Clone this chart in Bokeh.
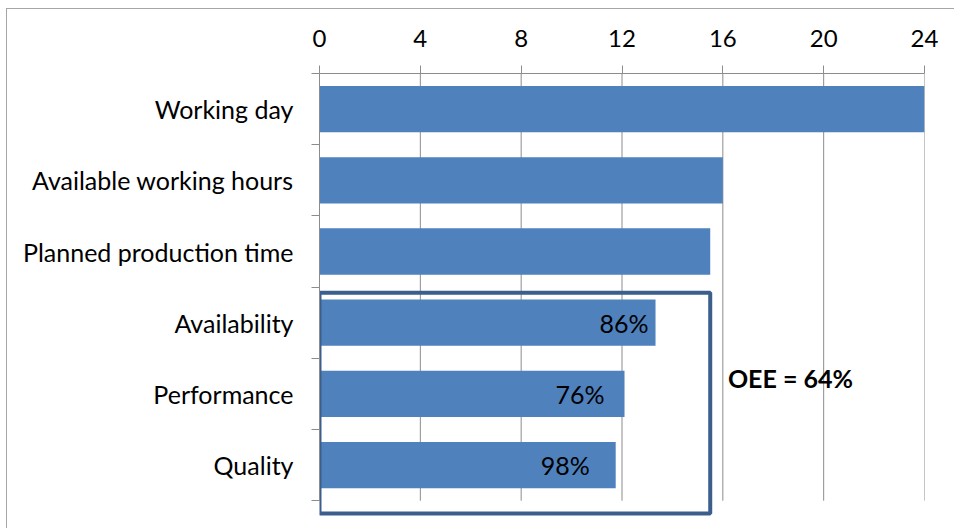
from bokeh.plotting import figure
from bokeh.models import ColumnDataSource, Range1d, FixedTicker
from bokeh.core.properties import value
from bokeh.embed import file_html
from bokeh.resources import INLINE

# ---- data ----
categories = ["Working day", "Available working hours", "Planned production time",
              "Availability", "Performance", "Quality"]
hours = [24, 16, 15.5, 13.33, 12.1, 11.75]
pct_labels = ["", "", "", "86%", "76%", "98%"]
x_ticks = [0, 4, 8, 12, 16, 20, 24]
oee_text = "OEE = 64%"

FONT = "Lato"
BAR = "#4F81BD"
GRID = "#8c8c8c"
BOX = "#3B5E8C"

n = len(categories)
ypos = [n - 1 - i + 0.5 for i in range(n)]

p = figure(frame_width=605, frame_height=445,
           x_range=Range1d(0, 24), y_range=Range1d(-0.25, n),
           x_axis_location="above",
           output_backend="svg", toolbar_location=None,
           min_border_left=312, min_border_top=64,
           min_border_right=30, min_border_bottom=10)
p.styles = {"margin-left": "6px", "margin-top": "8px",
            "border-left": "1px solid #a6a6a6", "border-top": "1px solid #a6a6a6"}
p.outline_line_color = None
p.xgrid.visible = False
p.ygrid.visible = False
p.background_fill_color = "white"
p.border_fill_color = "white"

# grid lines (vertical) spanning the category area only
p.segment(x0=x_ticks, y0=[0] * len(x_ticks), x1=x_ticks, y1=[n] * len(x_ticks),
          line_color=GRID, line_width=1)

src = ColumnDataSource(dict(y=ypos, right=hours, cat=categories))
p.hbar(y="y", left=0, right="right", height=0.65, source=src,
       fill_color=BAR, line_color=None)

# percent labels inside bars
lab_idx = [i for i, t in enumerate(pct_labels) if t]
lab_offsets = [-7, -20, -26]
lsrc = ColumnDataSource(dict(x=[hours[i] for i in lab_idx],
                             y=[ypos[i] for i in lab_idx],
                             t=[pct_labels[i] for i in lab_idx],
                             xo=lab_offsets))
p.text(x="x", y="y", text="t", x_offset="xo", source=lsrc,
       text_align="right", text_baseline="middle",
       text_font=value(FONT), text_font_size="25px", text_color="black")

# OEE box around the last three bars
p.quad(left=[0], right=[hours[2]], bottom=[-0.18], top=[2.92],
       fill_color=None, line_color=BOX, line_width=4)
p.text(x=[16.2], y=[1.72], text=[oee_text], text_align="left", text_baseline="middle",
       text_font=value(FONT), text_font_size="25px", text_font_style="bold",
       text_color="black")

# x axis (top)
xa = p.xaxis[0]
xa.ticker = FixedTicker(ticks=x_ticks)
xa.major_tick_out = 8
xa.major_tick_in = 0
xa.minor_tick_out = 0
xa.minor_tick_in = 0
xa.axis_line_color = GRID
xa.major_tick_line_color = GRID
xa.major_label_standoff = 19
xa.major_label_text_font = FONT
xa.major_label_text_font_size = "24px"
xa.major_label_text_color = "black"

# y axis (left)
ya = p.yaxis[0]
ya.ticker = FixedTicker(ticks=ypos, minor_ticks=list(range(n + 1)))
ya.major_label_overrides = {y: c for y, c in zip(ypos, categories)}
ya.bounds = (0, n)
ya.major_tick_out = 0
ya.major_tick_in = 0
ya.minor_tick_out = 8
ya.minor_tick_in = 0
ya.minor_tick_line_color = GRID
ya.axis_line_color = GRID
ya.major_label_standoff = 18
ya.major_label_text_font = FONT
ya.major_label_text_font_size = "25px"
ya.major_label_text_color = "black"

open("out.html", "w").write(file_html(p, INLINE))
